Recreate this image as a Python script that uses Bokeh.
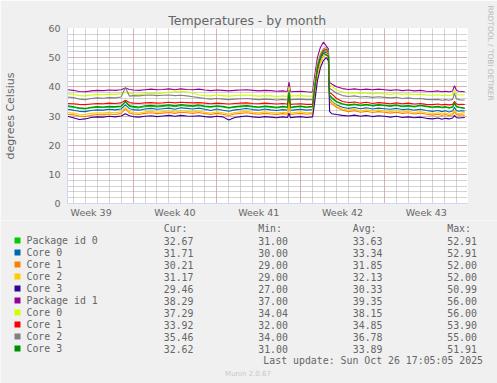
from bokeh.plotting import figure
from bokeh.layouts import column
from bokeh.models import FixedTicker, Title
from bokeh.core.properties import value
from bokeh.embed import file_html
from bokeh.resources import INLINE

# time axis: days since Monday 22 Sep 2025 00:00 (start of ISO week 39)
t = [1.53, 2.0, 2.5, 3.0, 3.5, 4.0, 4.5, 5.0, 5.5, 6.0,
     6.36, 6.7, 7.0, 7.5, 8.0, 8.5, 9.0, 9.5, 10.0, 10.5,
     11.0, 11.5, 12.0, 12.5, 13.0, 13.5, 14.0, 14.5, 15.0, 15.5,
     16.0, 16.5, 17.0, 17.5, 18.0, 18.5, 19.0, 19.5, 19.9, 20.03,
     20.15, 20.5, 21.0, 21.5, 22.0, 22.15, 22.4, 22.65, 22.9, 23.15,
     23.32, 23.42, 23.6, 24.0, 24.5, 25.0, 25.5, 26.0, 26.5, 27.0,
     27.5, 28.0, 28.5, 29.0, 29.5, 30.0, 30.5, 31.0, 31.5, 32.0,
     32.5, 32.8, 33.1, 33.4, 33.7, 33.85, 34.0, 34.2, 34.45, 34.71]

pkg0 = [33.2, 33.0, 32.6, 32.4, 32.8, 33.0, 32.9, 33.1, 33.0, 33.2,
        34.8, 33.3, 33.0, 32.8, 33.2, 33.4, 33.1, 33.3, 33.5, 33.2,
        33.6, 33.4, 33.3, 33.5, 33.2, 33.0, 33.3, 33.1, 32.7, 33.0,
        33.2, 33.4, 33.1, 32.9, 33.2, 33.0, 32.8, 33.1, 32.9, 37.5,
        32.8, 33.0, 33.2, 32.9, 33.1, 38.0, 46.0, 50.0, 52.0, 52.5,
        51.5, 37.0, 36.0, 34.8, 34.0, 33.6, 33.9, 33.5, 33.8, 33.4,
        33.7, 33.5, 33.3, 33.6, 33.2, 33.4, 33.1, 33.5, 33.2, 32.9,
        33.1, 32.8, 33.0, 32.7, 33.0, 34.2, 33.2, 32.9, 32.8, 32.67]
core0a = [32.3, 32.0, 31.6, 31.5, 31.9, 32.1, 32.0, 32.3, 32.1, 32.4,
          33.8, 32.5, 32.2, 32.0, 32.4, 32.6, 32.3, 32.5, 32.7, 32.3,
          32.8, 32.6, 32.4, 32.7, 32.3, 31.9, 32.4, 32.0, 31.6, 32.1,
          32.3, 32.6, 32.2, 32.0, 32.4, 32.1, 31.9, 32.2, 32.0, 36.5,
          31.9, 32.1, 32.3, 32.0, 32.2, 37.0, 45.0, 49.5, 51.5, 52.0,
          51.0, 36.0, 35.0, 33.8, 33.0, 32.6, 32.9, 32.5, 32.8, 32.4,
          32.7, 32.5, 32.3, 32.6, 32.2, 32.4, 32.0, 32.3, 31.9, 31.6,
          31.9, 31.5, 31.8, 31.4, 31.7, 33.0, 31.9, 31.6, 31.8, 31.71]
core1a = [30.6, 30.4, 30.0, 29.8, 30.2, 30.5, 30.4, 30.7, 30.5, 30.8,
          32.5, 31.0, 30.7, 30.5, 30.9, 31.1, 30.8, 31.0, 31.2, 30.9,
          31.3, 31.1, 30.9, 31.2, 30.8, 30.5, 30.9, 30.6, 30.2, 30.7,
          30.9, 31.1, 30.8, 30.6, 30.9, 30.7, 30.5, 30.8, 30.6, 35.0,
          30.5, 30.7, 30.9, 30.6, 30.8, 36.0, 44.0, 48.5, 50.5, 51.0,
          50.0, 35.0, 34.2, 33.0, 32.0, 31.5, 31.8, 31.3, 31.6, 31.2,
          31.5, 31.3, 31.0, 31.3, 30.9, 31.1, 30.7, 31.0, 30.6, 30.3,
          30.6, 30.2, 30.5, 30.1, 30.4, 31.5, 30.6, 30.3, 30.4, 30.21]
core2a = [31.2, 31.0, 30.6, 30.5, 30.9, 31.1, 31.0, 31.3, 31.1, 31.4,
          33.0, 31.5, 31.2, 31.0, 31.4, 31.6, 31.3, 31.5, 31.7, 31.4,
          31.8, 31.6, 31.4, 31.7, 31.3, 31.0, 31.4, 31.1, 30.7, 31.2,
          31.4, 31.6, 31.3, 31.1, 31.4, 31.2, 31.0, 31.3, 31.1, 36.0,
          31.0, 31.2, 31.4, 31.1, 31.3, 36.5, 43.5, 48.0, 50.5, 51.5,
          50.5, 35.5, 34.8, 33.5, 32.4, 32.0, 32.3, 31.8, 32.1, 31.7,
          32.0, 31.8, 31.5, 31.8, 31.4, 31.6, 31.2, 31.5, 31.1, 30.8,
          31.1, 30.7, 31.0, 30.6, 30.9, 32.0, 31.1, 30.8, 31.0, 31.17]
core3a = [29.9, 29.4, 28.8, 29.0, 29.5, 29.7, 29.6, 29.9, 29.7, 30.0,
          30.8, 30.1, 29.8, 29.6, 29.9, 30.1, 29.8, 30.0, 30.2, 29.9,
          30.2, 30.0, 29.9, 30.1, 29.8, 29.6, 29.9, 29.7, 28.6, 29.5,
          29.8, 30.0, 29.7, 29.5, 29.8, 29.6, 29.4, 29.7, 29.5, 31.0,
          29.4, 29.6, 29.8, 29.5, 29.7, 34.0, 42.0, 46.5, 49.0, 50.0,
          49.0, 31.5, 30.8, 30.5, 30.2, 30.0, 30.3, 29.9, 30.2, 29.8,
          30.1, 29.9, 29.6, 29.9, 29.5, 29.7, 29.4, 29.6, 29.2, 29.0,
          29.3, 28.9, 29.2, 29.0, 29.3, 30.2, 29.5, 29.3, 29.4, 29.46]
pkg1 = [39.0, 38.8, 38.4, 38.3, 38.6, 38.8, 38.7, 38.9, 38.8, 39.0,
        39.6, 39.1, 38.9, 38.8, 39.0, 39.2, 39.0, 39.1, 39.3, 39.0,
        39.3, 39.1, 39.0, 39.2, 38.9, 38.7, 38.9, 38.8, 38.6, 38.8,
        38.9, 39.0, 38.8, 38.6, 38.8, 38.7, 38.5, 38.6, 38.4, 41.6,
        38.3, 38.4, 38.5, 38.3, 38.2, 43.0, 50.0, 53.5, 55.3, 54.0,
        53.0, 41.5, 41.0, 40.0, 39.4, 39.1, 39.3, 39.0, 39.2, 39.0,
        39.2, 39.0, 38.8, 39.0, 38.7, 38.9, 38.6, 38.8, 38.5, 38.4,
        38.6, 38.3, 38.5, 38.3, 38.6, 40.4, 38.9, 38.5, 38.4, 38.29]
core0b = [37.6, 37.4, 37.0, 36.9, 37.2, 37.4, 37.3, 37.5, 37.4, 37.6,
          38.2, 37.7, 37.5, 37.4, 37.6, 37.8, 37.6, 37.9, 38.2, 38.3,
          38.4, 38.3, 37.8, 37.2, 37.0, 36.9, 37.1, 37.0, 36.8, 37.0,
          37.1, 37.2, 37.0, 36.8, 37.0, 36.9, 36.7, 36.9, 36.7, 40.0,
          36.8, 36.9, 37.0, 36.8, 36.8, 41.0, 48.0, 51.5, 53.0, 52.5,
          51.5, 40.6, 40.2, 39.0, 38.2, 37.8, 38.0, 37.7, 37.9, 37.6,
          37.8, 37.6, 37.4, 37.7, 37.4, 37.6, 37.3, 37.5, 37.2, 37.1,
          37.3, 37.0, 37.2, 37.0, 37.3, 38.8, 37.6, 37.3, 37.2, 37.29]
core1b = [34.3, 34.2, 34.0, 33.9, 34.1, 34.3, 34.2, 34.4, 34.3, 34.5,
          35.4, 34.6, 34.4, 34.3, 34.5, 34.6, 34.4, 34.5, 34.7, 34.5,
          34.7, 34.6, 34.5, 34.6, 34.4, 34.2, 34.4, 34.3, 34.1, 34.3,
          34.4, 34.5, 34.3, 34.2, 34.4, 34.3, 34.1, 34.3, 34.1, 37.0,
          34.0, 34.1, 34.2, 34.0, 34.0, 39.0, 46.5, 50.5, 52.5, 52.8,
          51.8, 38.0, 37.6, 36.0, 35.0, 34.6, 34.8, 34.4, 34.7, 34.3,
          34.6, 34.4, 34.2, 34.5, 34.2, 34.4, 34.1, 34.3, 34.0, 33.9,
          34.1, 33.8, 34.0, 33.8, 34.0, 35.0, 34.2, 33.9, 34.0, 33.92]
core2b = [36.5, 36.3, 35.8, 35.6, 36.0, 36.2, 36.1, 36.3, 36.2, 36.5,
          39.8, 36.8, 37.0, 36.9, 37.1, 37.2, 37.0, 37.1, 37.2, 37.0,
          37.1, 36.9, 36.6, 36.3, 36.0, 35.8, 36.0, 35.8, 35.6, 35.8,
          35.9, 36.0, 35.8, 35.6, 35.8, 35.7, 35.5, 35.7, 35.5, 39.0,
          35.6, 35.7, 35.8, 35.6, 35.6, 40.0, 47.5, 51.0, 53.0, 53.5,
          52.5, 39.5, 39.0, 37.8, 37.0, 36.7, 36.9, 36.5, 36.7, 36.4,
          36.6, 36.4, 36.2, 36.4, 36.0, 36.2, 35.9, 36.0, 35.7, 35.6,
          35.7, 35.4, 35.6, 35.4, 35.7, 37.8, 36.0, 35.6, 35.5, 35.46]
core3b = [33.5, 33.2, 32.8, 32.6, 33.0, 33.2, 33.1, 33.3, 33.2, 33.4,
          35.0, 33.6, 33.3, 33.1, 33.5, 33.7, 33.4, 33.6, 33.8, 33.5,
          33.9, 33.7, 33.5, 33.8, 33.4, 33.2, 33.5, 33.3, 32.9, 33.2,
          33.4, 33.6, 33.3, 33.1, 33.4, 33.2, 33.0, 33.3, 33.1, 38.0,
          33.0, 33.2, 33.4, 33.1, 33.3, 38.5, 46.5, 50.0, 51.5, 51.0,
          50.5, 37.2, 36.4, 35.0, 34.2, 33.8, 34.1, 33.7, 34.0, 33.6,
          33.9, 33.7, 33.5, 33.8, 33.4, 33.6, 33.3, 33.7, 33.4, 33.1,
          33.3, 33.0, 33.2, 32.9, 33.2, 34.5, 33.4, 33.1, 32.9, 32.62]

names = ["Package id 0", "Core 0", "Core 1", "Core 2", "Core 3",
         "Package id 1", "Core 0", "Core 1", "Core 2", "Core 3"]
colors = ["#00CC00", "#0066B3", "#FF8000", "#FFCC00", "#330099",
          "#990099", "#CCFF00", "#FF0000", "#808080", "#008F00"]
series = [pkg0, core0a, core1a, core2a, core3a, pkg1, core0b, core1b, core2b, core3b]
cur = [32.67, 31.71, 30.21, 31.17, 29.46, 38.29, 37.29, 33.92, 35.46, 32.62]
mins = [31.00, 30.00, 29.00, 29.00, 27.00, 37.00, 34.04, 32.00, 34.00, 31.00]
avgs = [33.63, 33.34, 31.85, 32.13, 30.33, 39.35, 38.15, 34.85, 36.78, 33.89]
maxs = [52.91, 52.91, 52.00, 52.00, 50.99, 56.00, 56.00, 53.90, 55.00, 51.91]
headers = ["Cur:", "Min:", "Avg:", "Max:"]
last_update = "Last update: Sun Oct 26 17:05:05 2025"
version = "Munin 2.0.67"

week_names = ["Week 39", "Week 40", "Week 41", "Week 42", "Week 43"]
week_starts = [0, 7, 14, 21, 28, 35]
y_ticks = [0, 10, 20, 30, 40, 50, 60]

W, H_TOP, H_BOT = 497, 220, 163
FONT = "#666666"
AXC = "#CFD6F8"
BG = "#F0F0F0"

# ---------------- chart ----------------
chart = figure(width=W, height=H_TOP, x_range=(1.525, 34.94), y_range=(0, 60),
               output_backend="svg", toolbar_location=None,
               min_border_left=67, min_border_right=29,
               min_border_top=28, min_border_bottom=17)
chart.frame_align = False
chart.background_fill_color = "white"
chart.border_fill_color = BG
chart.outline_line_color = None

chart.title.text = "Temperatures - by month"
chart.title.align = "left"
chart.title.offset = 100.7
chart.title.standoff = 2
chart.title.text_font = "DejaVu Sans"
chart.title.text_font_size = "12.5px"
chart.title.text_font_style = "normal"
chart.title.text_color = FONT

mid = [(week_starts[i] + week_starts[i + 1]) / 2 for i in range(len(week_names))]
chart.xaxis.ticker = FixedTicker(ticks=mid)
chart.xaxis.major_label_overrides = {m: n for m, n in zip(mid, week_names)}
chart.xgrid.ticker = FixedTicker(ticks=week_starts[1:-1], minor_ticks=list(range(0, 36)))
chart.yaxis.ticker = FixedTicker(ticks=y_ticks, minor_ticks=list(range(0, 61, 2)))
chart.ygrid.ticker = FixedTicker(ticks=y_ticks, minor_ticks=list(range(0, 61, 2)))
for g in (chart.xgrid, chart.ygrid):
    g.grid_line_color = "#E39292"
    g.grid_line_dash = "1 1"
    g.grid_line_width = 1
    g.minor_grid_line_color = "#A8A8A8"
    g.minor_grid_line_dash = "1 1"
    g.minor_grid_line_width = 1

for ax in (chart.xaxis, chart.yaxis):
    ax.axis_line_color = AXC
    ax.major_tick_line_color = None
    ax.minor_tick_line_color = None
    ax.major_tick_out = 0
    ax.major_tick_in = 0
    ax.minor_tick_out = 0
    ax.minor_tick_in = 0
    ax.major_label_text_color = FONT
    ax.major_label_text_font = "DejaVu Sans"
    ax.major_label_text_font_size = "9.5px"
chart.yaxis.major_label_standoff = 7
chart.xaxis.major_label_standoff = 3
chart.yaxis.axis_label = "degrees Celsius"
chart.yaxis.axis_label_text_font = "DejaVu Sans"
chart.yaxis.axis_label_text_font_size = "11px"
chart.yaxis.axis_label_text_font_style = "normal"
chart.yaxis.axis_label_text_color = FONT
chart.yaxis.axis_label_standoff = 28

for ys, c in zip(series, colors):
    chart.line(t, ys, line_color=c, line_width=1.1)

# spacer + vertical RRDtool credit on the right side
chart.add_layout(Title(text=" ", text_font_size="1px", standoff=14), "right")
chart.add_layout(Title(text="RRDTOOL / TOBI OETIKER", align="left", offset=-23,
                       text_font="DejaVu Sans", text_font_size="7.4px",
                       text_font_style="normal", text_color="#B8B8B8",
                       standoff=2), "right")

# ---------------- legend table (pixel coordinates, y downwards) ----------------
table = figure(width=W, height=H_BOT, x_range=(0, W), y_range=(H_TOP + H_BOT, H_TOP),
               output_backend="svg", toolbar_location=None,
               x_axis_location=None, y_axis_location=None,
               min_border_left=0, min_border_right=0,
               min_border_top=0, min_border_bottom=0)
table.frame_align = False
table.grid.visible = False
table.outline_line_color = None
table.background_fill_color = BG
table.border_fill_color = BG

row_y = [240 + 12 * i for i in range(len(names))]
col_x = [163.3, 257.7, 352.3, 446.7]
mono = dict(text_font=value("DejaVu Sans Mono"), text_font_size=value("9.87px"),
            text_color=FONT, text_baseline="middle")

table.rect(x=[17] * len(names), y=row_y, width=6, height=6,
           fill_color=colors, line_color=None)
table.text(x=[26] * len(names), y=row_y, text=names, **mono)
table.text(x=col_x, y=[227.5] * 4, text=headers, **mono)
for vals, cx in zip((cur, mins, avgs, maxs), col_x):
    table.text(x=[cx] * len(vals), y=row_y, text=[f"{v:.2f}" for v in vals], **mono)
table.text(x=[482.5], y=[360], text=[last_update], text_align="right", **mono)
table.text(x=[247.5], y=[373], text=[version], text_align="center",
           text_font=value("DejaVu Sans"), text_font_size=value("7px"),
           text_color="#C8C8C8", text_baseline="middle")

p = column(chart, table, spacing=0)
open("out.html", "w").write(file_html(p, INLINE))
